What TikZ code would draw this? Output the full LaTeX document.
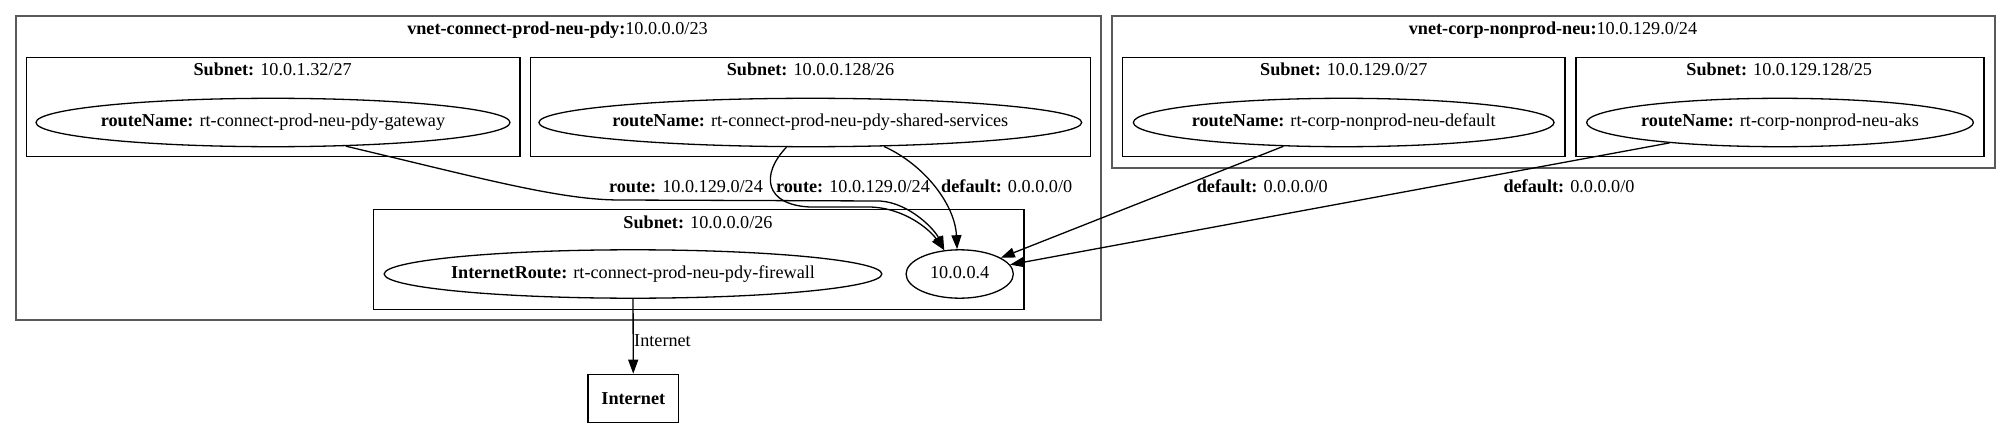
\documentclass[tikz,border=0pt]{standalone}
\usepackage{fontspec}
\setmainfont{Liberation Serif}
\usetikzlibrary{shapes.geometric,arrows.meta}
\begin{document}
\begin{tikzpicture}[x=1pt, y=-1pt,
	font=\fontsize{18.2pt}{22pt}\selectfont,
	vnet/.style={draw=black!65, line width=2pt},
	subnet/.style={draw, line width=1.4pt},
	rt/.style={ellipse, draw, line width=1.3pt, minimum height=48.4pt, inner xsep=-6pt, inner ysep=0pt, text height=12.4pt, text depth=4pt},
	link/.style={line width=1.3pt, -{Triangle[length=14pt, width=10pt]}},
	lbl/.style={inner sep=0pt, anchor=base}]
	\useasboundingbox (0,0) rectangle (2011,428);
	\draw[vnet] (15.7,15.7) rectangle (1101,320);
	\draw[vnet] (1111.7,15.7) rectangle (1995,167.7);
	\foreach \xa/\ya/\xb/\yb in {26.7/57.3/520/156.7, 530.7/57.3/1090.7/156.7, 373.3/209.3/1024/309.3, 1122.7/57.3/1565/156.7, 1576/57.3/1984/156.7}{
		\draw[subnet] (\xa,\ya) rectangle (\xb,\yb);
	}
	\node[lbl] (vnetconnect) at (557.5,35) {\textbf{vnet-connect-prod-neu-pdy:}10.0.0.0/23};
	\node[lbl] (vnetcorp) at (1553,35) {\textbf{vnet-corp-nonprod-neu:}10.0.129.0/24};
	\node[lbl] (sngw) at (272.7,76) {\textbf{Subnet:} 10.0.1.32/27};
	\node[lbl] (snss) at (810.5,76) {\textbf{Subnet:} 10.0.0.128/26};
	\node[lbl] (snfw) at (698,228.3) {\textbf{Subnet:} 10.0.0.0/26};
	\node[lbl] (sndef) at (1343.8,76) {\textbf{Subnet:} 10.0.129.0/27};
	\node[lbl] (snaks) at (1779.2,76) {\textbf{Subnet:} 10.0.129.128/25};
	\node[rt, minimum width=474pt] (gw) at (273,122.5) {\textbf{routeName:} rt-connect-prod-neu-pdy-gateway};
	\node[rt, minimum width=539.4pt] (ss) at (810.3,122.5) {\textbf{routeName:} rt-connect-prod-neu-pdy-shared-services};
	\node[rt, minimum width=497.4pt] (fw) at (633,274) {\textbf{InternetRoute:} rt-connect-prod-neu-pdy-firewall};
	\node[rt, minimum width=107.3pt] (ip) at (959.7,274) {10.0.0.4};
	\node[rt, minimum width=420.7pt] (def) at (1343.7,122.5) {\textbf{routeName:} rt-corp-nonprod-neu-default};
	\node[rt, minimum width=386.7pt] (aks) at (1780,122.5) {\textbf{routeName:} rt-corp-nonprod-neu-aks};
	\node[draw, line width=1.3pt, minimum width=90.7pt, minimum height=48.4pt] (inet) at (633.3,398.5) {\textbf{Internet}};
	\draw[link] (gw.-18) .. controls (480,178) and (560,200) .. (620,200) -- (880,201) .. controls (910,203) and (935,230) .. (ip.123);
	\draw[link] (ss.-134) .. controls (760,175) and (765,205) .. (810,207) -- (870,207) .. controls (905,208) and (930,230) .. (ip.123);
	\draw[link] (ss.-18) .. controls (925,165) and (955,205) .. (ip.96);
	\draw[link] (def) -- (ip);
	\draw[link] (aks) -- (ip);
	\draw[link] (fw) -- (inet);
	\node[lbl] (lgw) at (686,192) {\textbf{route:} 10.0.129.0/24};
	\node[lbl] (lss) at (853,192) {\textbf{route:} 10.0.129.0/24};
	\node[lbl] (lssdef) at (1006.7,192) {\textbf{default:} 0.0.0.0/0};
	\node[lbl] (ldef) at (1262.3,192) {\textbf{default:} 0.0.0.0/0};
	\node[lbl] (laks) at (1569,192) {\textbf{default:} 0.0.0.0/0};
	\node[lbl, anchor=base west] (linet) at (634,346.7) {Internet};
\end{tikzpicture}
\end{document}
